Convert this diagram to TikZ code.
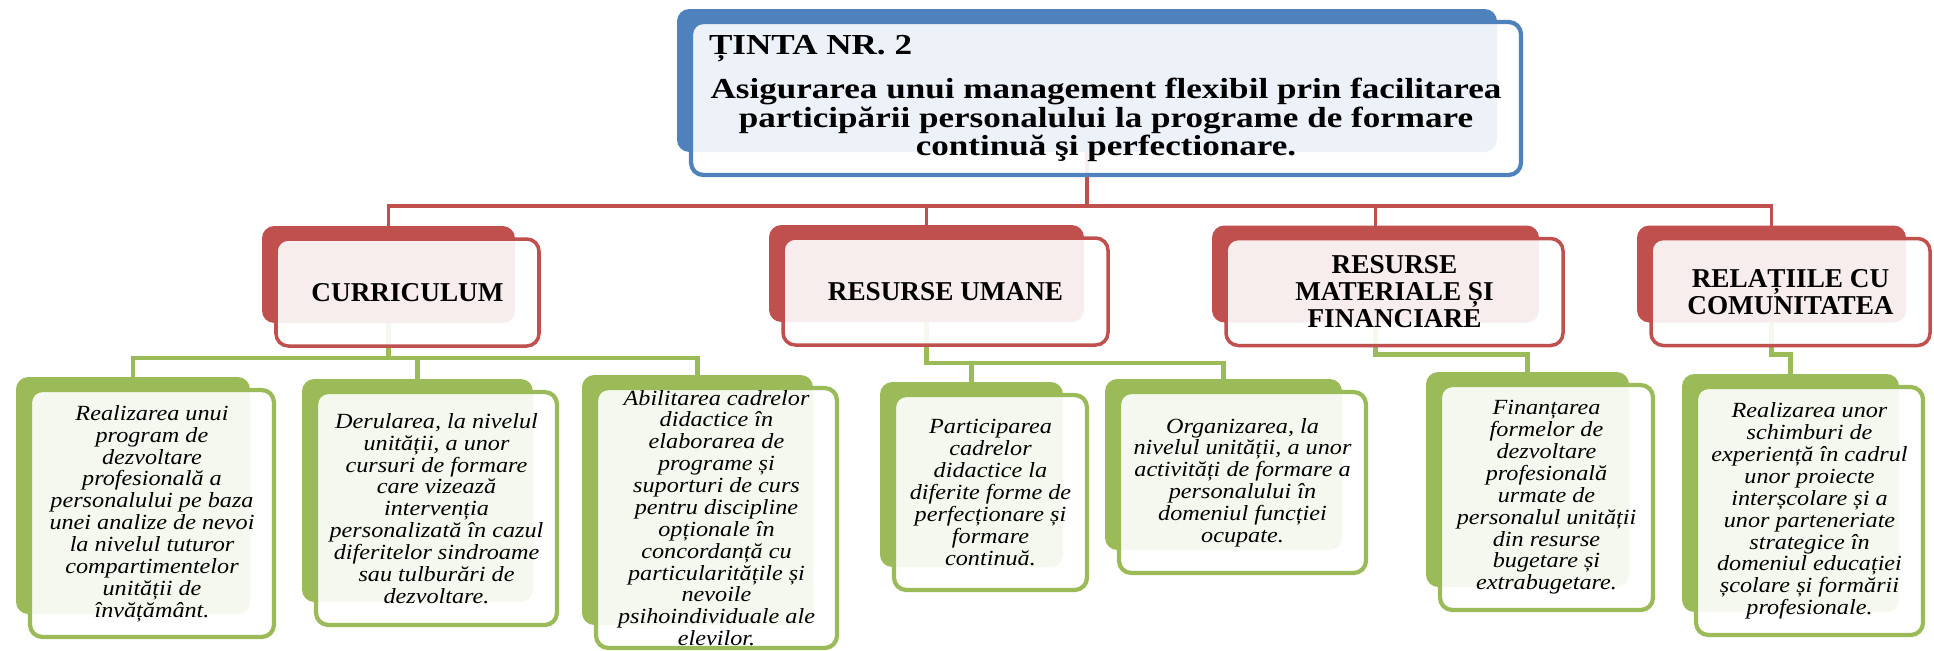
\documentclass[tikz,border=0pt]{standalone}
\usepackage{fontspec}
\setmainfont{Liberation Serif}
\newfontfamily\goalfont[FakeStretch=1.21]{Liberation Serif}
\newfontfamily\leaffont[FakeStretch=1.12]{Liberation Serif}
\usepackage{tikz}
\usetikzlibrary{calc,backgrounds}
\definecolor{goalblue}{HTML}{4F81BD}
\definecolor{areared}{HTML}{C0504D}
\definecolor{taskgreen}{HTML}{9BBB59}
\tikzset{
    box size/.style 2 args={minimum width=#1*0.02cm, minimum height=#2*0.02cm},
    card back/.style={rectangle, rounded corners=7pt, inner sep=0pt, outer sep=0pt},
    card front/.style={rectangle, rounded corners=7pt, inner sep=0pt, outer sep=0pt,
        fill=white, fill opacity=.9, text opacity=1, line width=2.4pt, align=center},
    goal back/.style={card back, fill=goalblue},
    goal front/.style={card front, draw=goalblue, font=\goalfont\bfseries\fontsize{16.5}{14.2}\selectfont},
    area back/.style={card back, fill=areared},
    area front/.style={card front, draw=areared, line width=2pt, font=\bfseries\fontsize{15.5}{15.4}\selectfont},
    task back/.style={card back, fill=taskgreen},
    task front/.style={card front, draw=taskgreen, font=\leaffont\itshape\fontsize{12.3}{12.45}\selectfont},
    area link/.style={draw=areared, line width=1.8pt},
    task link/.style={draw=taskgreen, line width=2.5pt},
}

\begin{document}
\begin{tikzpicture}[x=0.02cm,y=-0.02cm]
    \useasboundingbox (0,0) rectangle (1934,650);
    % goal
    \node[goal back, box size={820}{143}] (goal-bk) at (1087,80.5) {};
    \node[goal front, box size={830}{153}] (goal) at ($(goal-bk)+(19,18)$)
        {\makebox[15.88cm][l]{ȚINTA NR. 2}\\[0.30cm]
        Asigurarea unui management flexibil prin facilitarea\\
        participării personalului la programe de formare\\
        continuă şi perfectionare.};
    % domains
    \node[area back, box size={253}{97}] (cur-bk) at (388.5,274.5) {};
    \node[area front, box size={263}{107}] (cur) at ($(cur-bk)+(19,18)$) {CURRICULUM};
    \node[area back, box size={315}{97}] (hum-bk) at (926.5,273.5) {};
    \node[area front, box size={325}{107}] (hum) at ($(hum-bk)+(19,18)$) {RESURSE UMANE};
    \node[area back, box size={327}{97}] (mat-bk) at (1375.5,274) {};
    \node[area front, box size={337}{107}] (mat) at ($(mat-bk)+(19,18)$)
        {RESURSE\\MATERIALE ȘI\\FINANCIARE};
    \node[area back, box size={269}{97}] (com-bk) at (1771.5,274) {};
    \node[area front, box size={279}{107}] (com) at ($(com-bk)+(19,18)$)
        {RELAȚIILE CU\\COMUNITATEA};
    % tasks
    \node[task back, box size={234}{237}] (t1-bk) at (133,495.5) {};
    \node[task front, box size={244}{247}] (t1) at ($(t1-bk)+(19,18)$)
        {Realizarea unui\\program de\\dezvoltare\\profesională a\\personalului pe baza\\unei analize de nevoi\\la nivelul tuturor\\compartimentelor\\unității de\\învățământ.};
    \node[task back, box size={231}{223}] (t2-bk) at (417.5,490.5) {};
    \node[task front, box size={241}{233}] (t2) at ($(t2-bk)+(19,18)$)
        {Derularea, la nivelul\\unității, a unor\\cursuri de formare\\care vizează\\intervenția\\personalizată în cazul\\diferitelor sindroame\\sau tulburări de\\dezvoltare.};
    \node[task back, box size={231}{250}] (t3-bk) at (697.5,500) {};
    \node[task front, box size={241}{260}] (t3) at ($(t3-bk)+(19,18)$)
        {Abilitarea cadrelor\\didactice în\\elaborarea de\\programe și\\suporturi de curs\\pentru discipline\\opționale în\\concordanță cu\\particularitățile și\\nevoile\\psihoindividuale ale\\elevilor.};
    \node[task back, box size={183}{185}] (t4-bk) at (971.5,474.5) {};
    \node[task front, box size={193}{195}] (t4) at ($(t4-bk)+(19,18)$)
        {Participarea\\cadrelor\\didactice la\\diferite forme de\\perfecționare și\\formare\\continuă.};
    \node[task back, box size={237}{171}] (t5-bk) at (1223.5,464.5) {};
    \node[task front, box size={247}{181}] (t5) at ($(t5-bk)+(19,18)$)
        {Organizarea, la\\nivelul unității, a unor\\activități de formare a\\personalului în\\domeniul funcției\\ocupate.};
    \node[task back, box size={203}{215}] (t6-bk) at (1527.5,479.5) {};
    \node[task front, box size={213}{225}] (t6) at ($(t6-bk)+(19,18)$)
        {Finanțarea\\formelor de\\dezvoltare\\profesională\\urmate de\\personalul unității\\din resurse\\bugetare și\\extrabugetare.};
    \node[task back, box size={217}{238}] (t7-bk) at (1790.5,493) {};
    \node[task front, box size={227}{248}] (t7) at ($(t7-bk)+(19,18)$)
        {Realizarea unor\\schimburi de\\experiență în cadrul\\unor proiecte\\interșcolare și a\\unor parteneriate\\strategice în\\domeniul educației\\școlare și formării\\profesionale.};
    % links
    \begin{scope}[on background layer]
        \foreach \area in {cur,hum,mat,com}
            \draw[area link] (goal-bk.south) -- ++(0,54) -| (\area-bk.north);
        \foreach \task in {t1,t2,t3}
            \draw[task link] (cur-bk.south) -- ++(0,35) -| (\task-bk.north);
        \foreach \task in {t4,t5}
            \draw[task link] (hum-bk.south) -- ++(0,41) -| (\task-bk.north);
        \draw[task link] (mat-bk.south) -- ++(0,32) -| (t6-bk.north);
        \draw[task link] (com-bk.south) -- ++(0,32) -| (t7-bk.north);
    \end{scope}
\end{tikzpicture}
\end{document}
